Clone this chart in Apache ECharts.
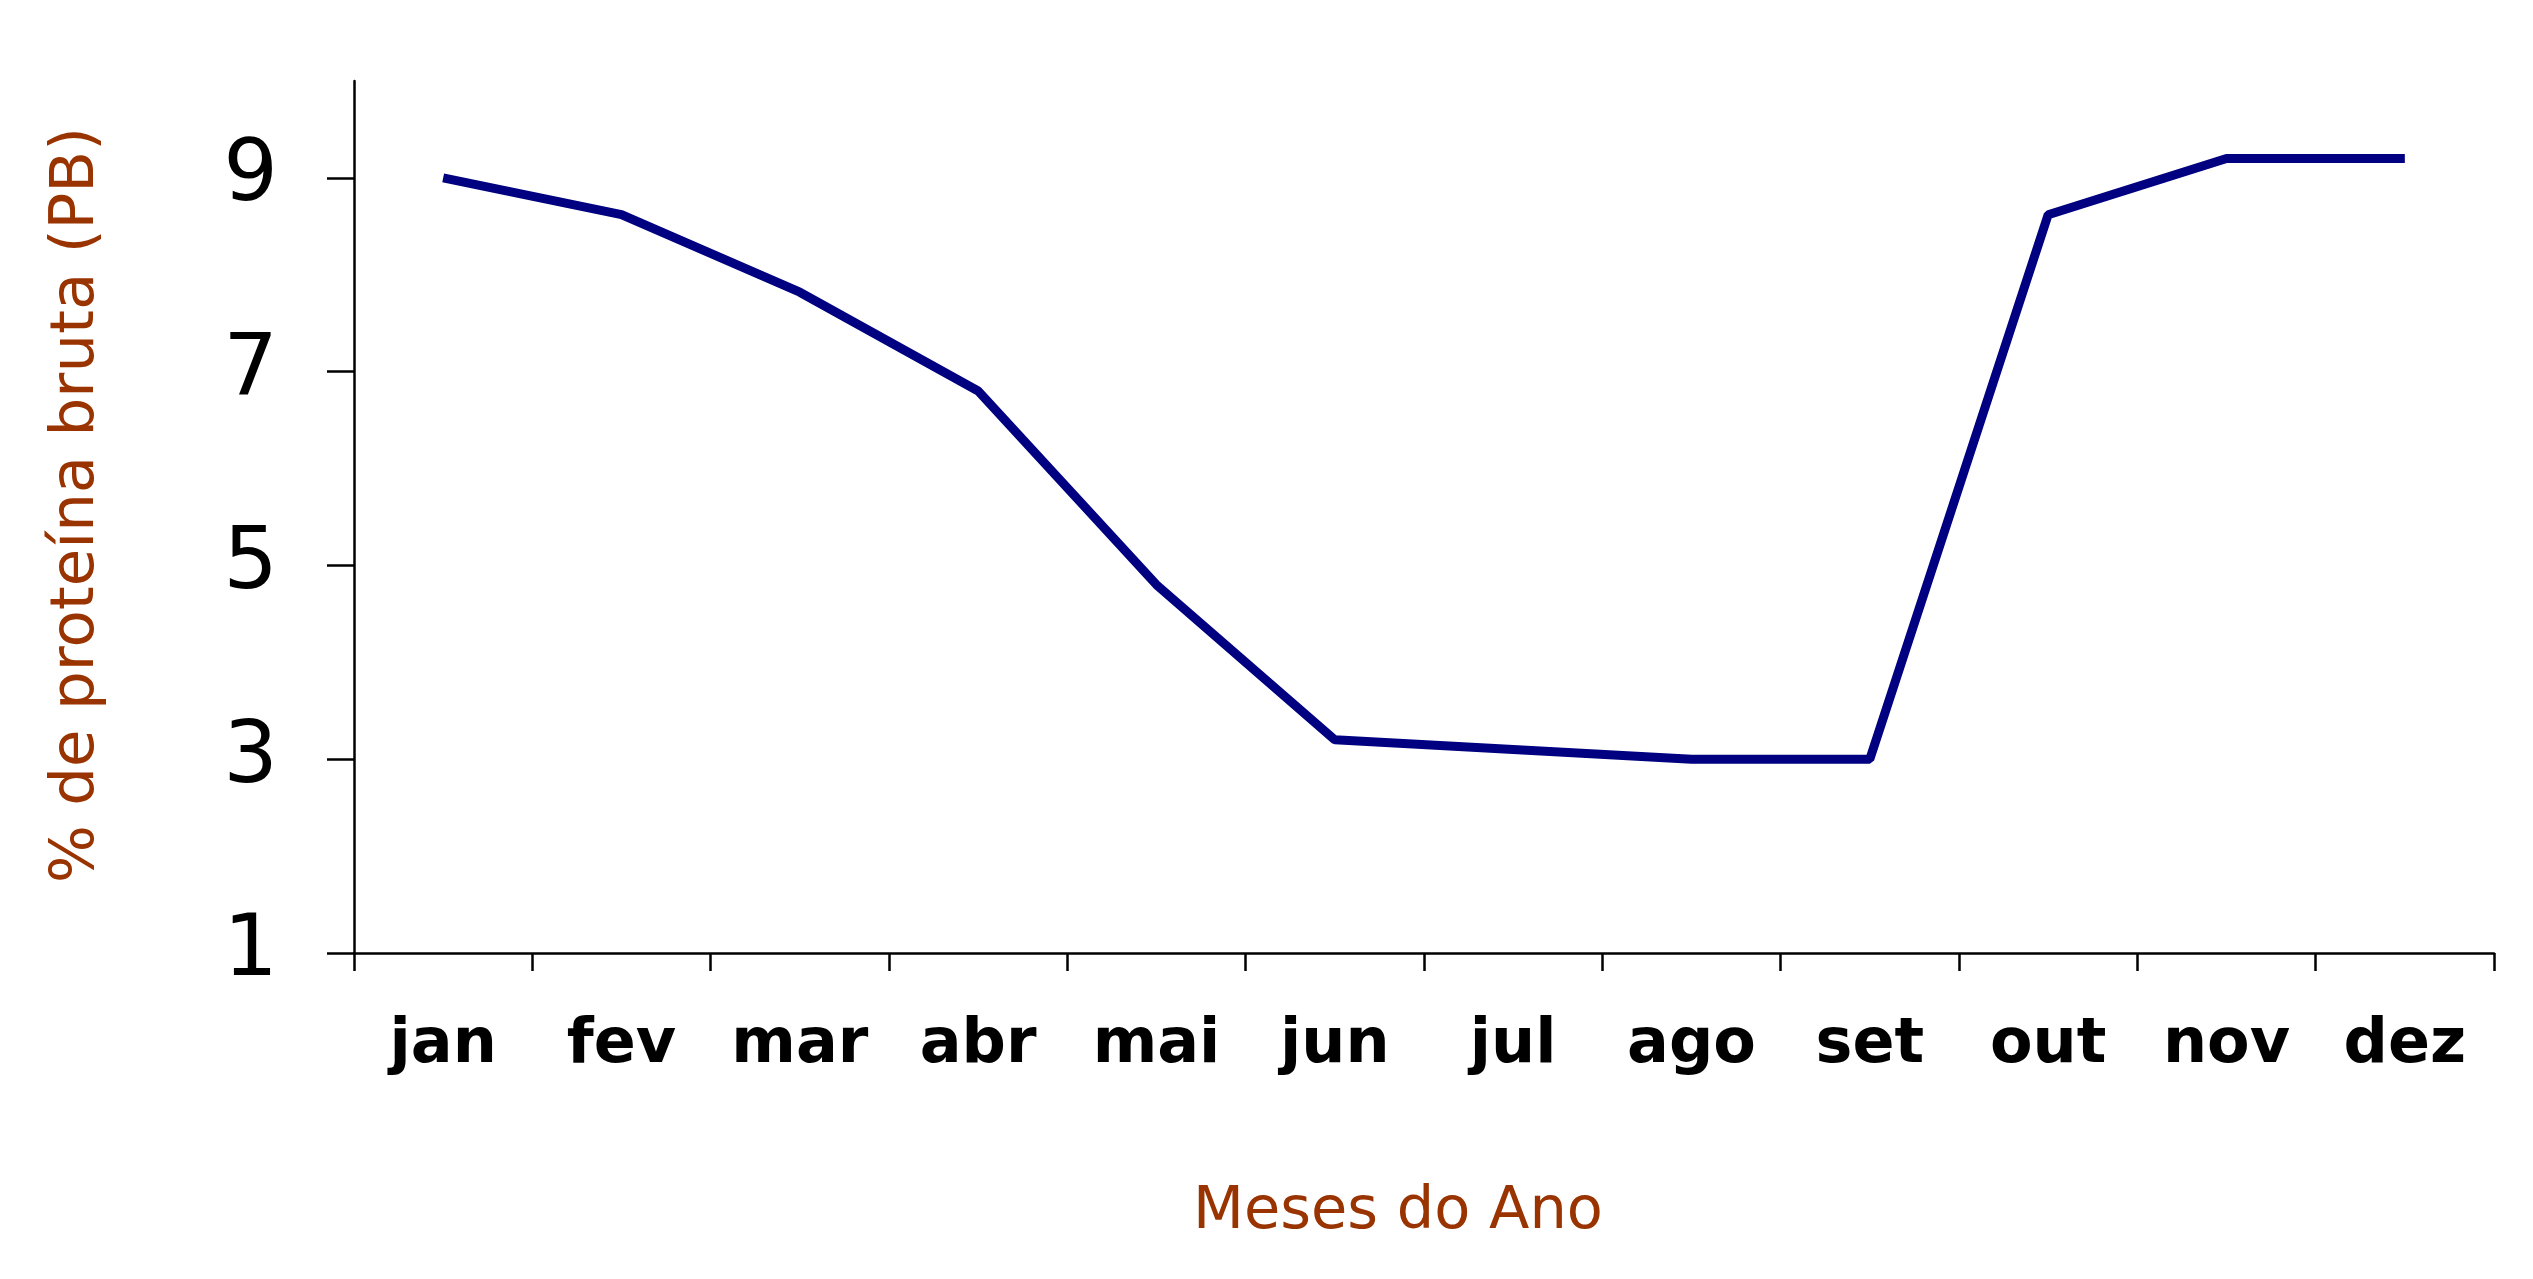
<!DOCTYPE html>
<html>
<head>
<meta charset="utf-8">
<script src="https://cdn.jsdelivr.net/npm/echarts@6/dist/echarts.min.js"></script>
<style>
html,body{margin:0;padding:0;background:#fff;}
#chart{width:2533px;height:1279px;}
</style>
</head>
<body>
<div id="chart"></div>
<script>
const months = ['jan','fev','mar','abr','mai','jun','jul','ago','set','out','nov','dez'];
const proteinValues = [9.0, 8.62, 7.82, 6.8, 4.8, 3.2, 3.1, 3.0, 3.0, 8.62, 9.2, 9.2];
const yTickValues = [1, 3, 5, 7, 9];
const xTitle = 'Meses do Ano';
const yTitle = '% de proteína bruta (PB)';

const chart = echarts.init(document.getElementById('chart'));
chart.setOption({
  animation: false,
  backgroundColor: '#ffffff',
  grid: { left: 354, right: 39, top: 81, bottom: 326 },
  xAxis: {
    type: 'category',
    data: months,
    boundaryGap: true,
    name: xTitle,
    nameLocation: 'middle',
    nameGap: 230,
    nameTextStyle: { fontFamily: 'DejaVu Sans', fontSize: 59, color: '#993300', padding: [0, 52, 0, 0] },
    axisLine: { lineStyle: { color: '#000', width: 2.5 } },
    axisTick: { show: true, length: 18, lineStyle: { color: '#000', width: 2.5 } },
    axisLabel: { fontFamily: 'DejaVu Sans', fontWeight: 'bold', fontSize: 62, color: '#000', margin: 62 },
    splitLine: { show: false }
  },
  yAxis: {
    type: 'value',
    min: 1,
    max: 10,
    interval: 2,
    name: yTitle,
    nameLocation: 'middle',
    nameGap: 246,
    nameRotate: 90,
    nameTextStyle: { fontFamily: 'DejaVu Sans', fontSize: 61, color: '#993300', padding: [0, 0, 0, 24] },
    axisLine: { show: true, lineStyle: { color: '#000', width: 2.5 } },
    axisTick: { show: true, length: 27, customValues: yTickValues, lineStyle: { color: '#000', width: 2.5 } },
    axisLabel: { fontFamily: 'DejaVu Sans', fontSize: 86, color: '#000', margin: 76, customValues: yTickValues, verticalAlign: 'middle', padding: [22, 0, 0, 0] },
    splitLine: { show: false }
  },
  series: [{
    type: 'line',
    data: proteinValues,
    symbol: 'none',
    lineStyle: { color: '#000080', width: 9 },
    itemStyle: { color: '#000080' }
  }]
});
</script>
</body>
</html>
